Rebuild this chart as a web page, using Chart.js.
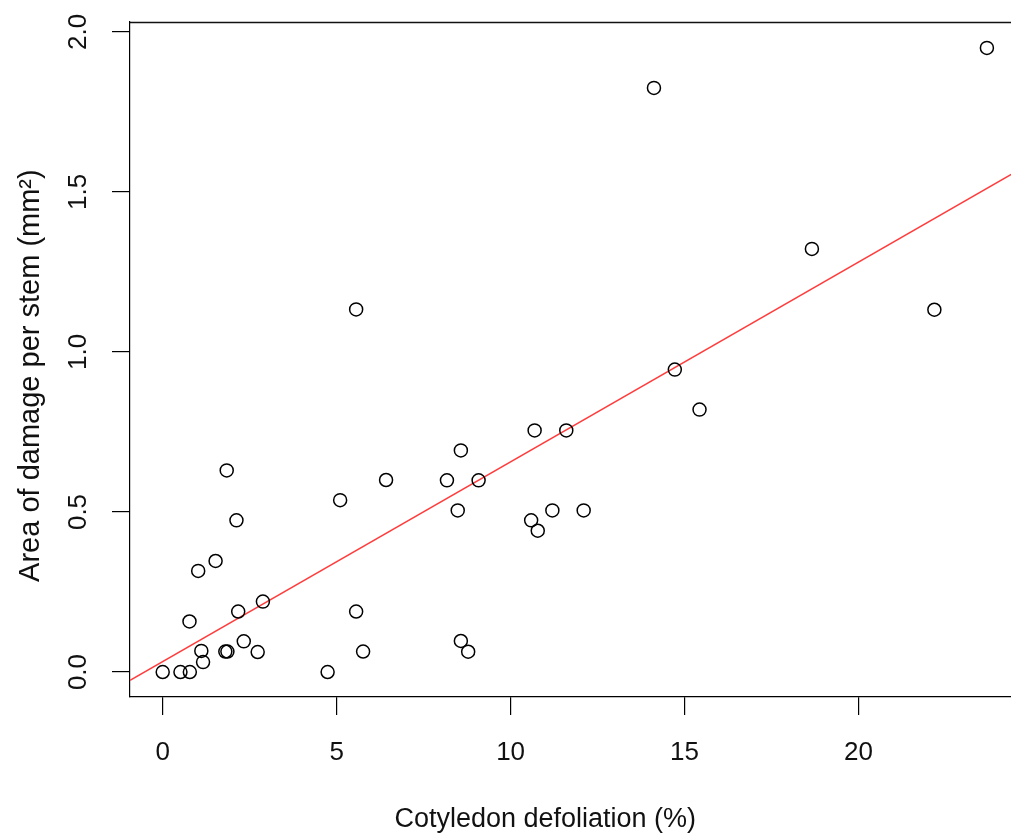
<!DOCTYPE html>
<html>
<head>
<meta charset="utf-8">
<script src="https://cdn.jsdelivr.net/npm/chart.js@4"></script>
<style>
  html, body { margin: 0; padding: 0; background: #fff; overflow: hidden; }
  #wrap { width: 1014px; height: 836px; }
</style>
</head>
<body>
<div id="wrap"><canvas id="myChart" width="1014" height="836"></canvas></div>
<script>
// defoliation (%) and damage area (mm^2)
let defoliation = [0, 0.51, 0.78, 0.77, 1.02, 1.11, 1.16, 1.52, 1.84, 1.80, 1.86, 2.12, 2.17, 2.33, 2.73, 2.88,
  4.74, 5.10, 5.56, 5.56, 5.76, 6.42, 8.17, 8.48, 8.57, 8.57, 8.78, 9.08,
  10.59, 10.69, 10.78, 11.20, 11.60, 12.10, 14.12, 14.72, 15.43, 18.66, 22.18, 23.69];
let damage = [0, 0, 0, 0.158, 0.316, 0.066, 0.031, 0.347, 0.63, 0.064, 0.064, 0.474, 0.189, 0.096, 0.0625, 0.22,
  0, 0.537, 1.133, 0.189, 0.064, 0.60, 0.599, 0.505, 0.6925, 0.097, 0.0634, 0.599,
  0.474, 0.755, 0.4416, 0.505, 0.755, 0.505, 1.825, 0.945, 0.82, 1.322, 1.132, 1.95];

// fitted line, end points read at the plot edges
let fitX = [-0.94, 24.44];
let fitY = [-0.026, 1.558];

let xTicks = [0, 5, 10, 15, 20];
let yTicks = [0, 0.5, 1, 1.5, 2];

let font = 'Liberation Sans, Arial, Helvetica, sans-serif';

let points = defoliation.map((v, i) => ({x: v, y: damage[i]}));
let fitLine = fitX.map((v, i) => ({x: v, y: fitY[i]}));

// top edge of the box (R draws a full box)
const boxTop = {
  id: 'boxTop',
  afterDraw: (chart) => {
    const c = chart.ctx, a = chart.chartArea;
    const t = Math.round(a.top) + 0.5;
    c.save();
    c.strokeStyle = '#111';
    c.lineWidth = 1.3;
    c.beginPath();
    c.moveTo(a.left, t);
    c.lineTo(a.right, t);
    c.lineTo(a.right, a.bottom);
    c.stroke();
    c.restore();
  }
};

var ctx = document.getElementById('myChart').getContext('2d');
new Chart(ctx, {
  type: 'scatter',
  data: {
    datasets: [{
      data: points,
      pointStyle: 'circle',
      pointRadius: 6.5,
      pointHoverRadius: 6.5,
      borderWidth: 1.5,
      borderColor: '#000',
      backgroundColor: 'rgba(0,0,0,0)'
    }, {
      type: 'line',
      data: fitLine,
      borderColor: '#ff3b3b',
      borderWidth: 1.6,
      pointRadius: 0,
      fill: false
    }]
  },
  plugins: [boxTop],
  options: {
    responsive: false,
    animation: false,
    devicePixelRatio: 1,
    layout: { autoPadding: false, padding: { top: 22, left: 0, right: 1, bottom: 0 } },
    plugins: { legend: { display: false }, tooltip: { enabled: false } },
    scales: {
      x: {
        type: 'linear',
        min: -0.94,
        max: 24.44,
        afterBuildTicks: (s) => { s.ticks = xTicks.map(v => ({value: v})); },
        afterFit: (s) => { s.height = 139; s.paddingLeft = 0; s.paddingRight = 0; },
        grid: { display: true, drawOnChartArea: false, drawTicks: true, tickLength: 18, color: '#000', lineWidth: 1.2 },
        border: { display: true, color: '#000', width: 1.2 },
        ticks: { color: '#111', font: { family: font, size: 26 }, padding: 22, maxRotation: 0 },
        title: { display: true, text: 'Cotyledon defoliation (%)       ', color: '#111',
          font: { family: font, size: 27 }, padding: { top: 0, bottom: 0 } }
      },
      y: {
        type: 'linear',
        min: -0.078,
        max: 2.031,
        afterBuildTicks: (s) => { s.ticks = yTicks.map(v => ({value: v})); },
        afterFit: (s) => { s.width = 130; s.paddingTop = 0; s.paddingBottom = 0; },
        grid: { display: true, drawOnChartArea: false, drawTicks: true, tickLength: 18, color: '#000', lineWidth: 1.2 },
        border: { display: true, color: '#000', width: 1.2 },
        ticks: {
          color: '#111', font: { family: font, size: 26 }, padding: 15,
          minRotation: 90, maxRotation: 90, crossAlign: 'center',
          callback: (v) => v.toFixed(1)
        },
        title: { display: true, text: 'Area of damage per stem (mm²)    ', color: '#111',
          font: { family: font, size: 29 }, padding: { top: 14, bottom: 0 } }
      }
    }
  }
});
</script>
</body>
</html>
